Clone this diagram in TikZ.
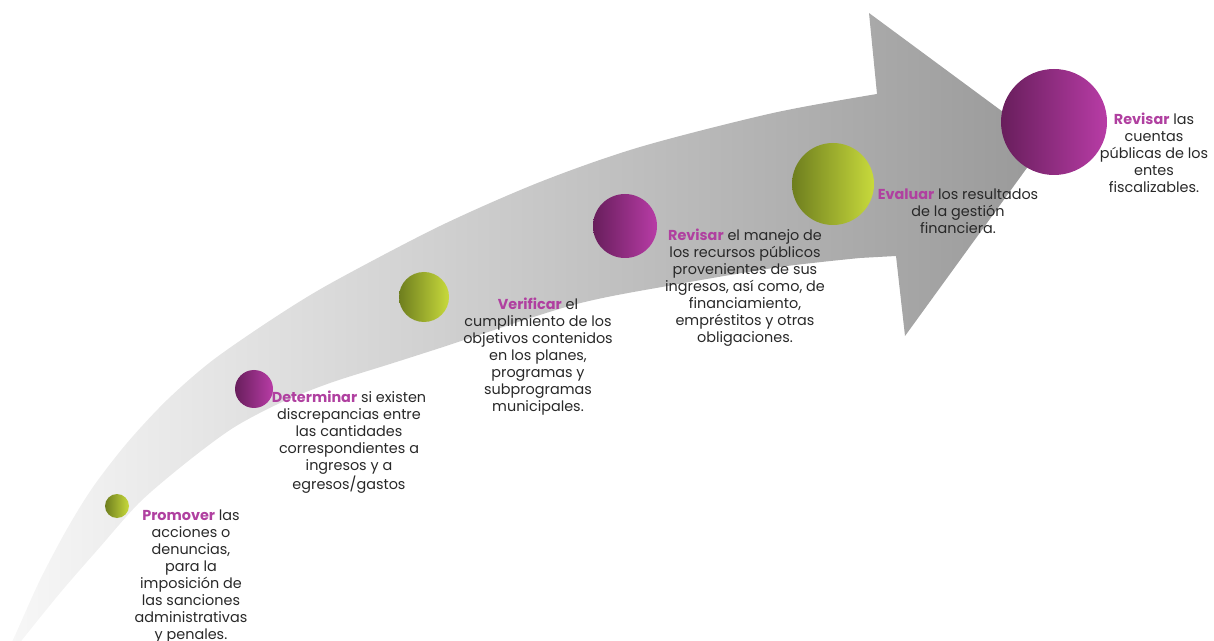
\documentclass[tikz,border=0pt]{standalone}
\usepackage{fontspec}
\setmainfont{Poppins}
\usetikzlibrary{positioning}

\definecolor{kwpurple}{RGB}{176,64,160}
\definecolor{bodygray}{RGB}{40,40,40}
\definecolor{olivedark}{RGB}{110,126,30}
\definecolor{limelight}{RGB}{200,218,60}
\definecolor{plumdark}{RGB}{104,30,92}
\definecolor{plumlight}{RGB}{184,60,166}
\newcommand{\kw}[1]{{\bfseries\color{kwpurple}#1}}

\tikzset{
  greendot/.style={circle, inner sep=0pt, left color=olivedark, right color=limelight},
  plumdot/.style={circle, inner sep=0pt, left color=plumdark, right color=plumlight},
  steptext/.style={align=center, inner sep=0pt, text=bodygray, font=\fontsize{10.8}{12.75}\selectfont}
}

\begin{document}
\begin{tikzpicture}[x=0.75pt, y=-0.75pt]
\useasboundingbox (0,0) rectangle (1214,641);
% the curved arrow
\shade[left color=white!97!black, right color=black!40]
  plot[smooth] coordinates {(6,655) (17,631) (40,580) (67,529) (93,487) (127,443) (167,400) (213,360) (277,316) (333,282) (440,226) (540,182) (640,147) (773,113) (877,94)}
  -- (869,13) -- (1045,143) -- (905,336) -- (896,256)
  -- plot[smooth] coordinates {(860,258) (780,267) (673,285) (573,305) (440,348) (390,364) (330,383) (280,403) (233,428) (187,462) (140,502) (100,547) (60,593) (18,645)}
  -- cycle;

% the dots
\node[greendot, minimum size=18pt] (promover) at (117,506) {};
\node[plumdot, minimum size=28.5pt] (determinar) at (254,389) {};
\node[greendot, minimum size=37.5pt] (verificar) at (424,297) {};
\node[plumdot, minimum size=48pt] (revisarrec) at (625,226) {};
\node[greendot, minimum size=61.5pt] (evaluar) at (833,184) {};
\node[plumdot, minimum size=79.5pt] (revisarcta) at (1054,122) {};

% the texts
\node[steptext] (promovertxt) at (191,577) {\kw{Promover} las\\acciones o\\denuncias,\\para la\\imposición de\\las sanciones\\administrativas\\y penales.};
\node[steptext] (determinartxt) at (349,442) {\kw{Determinar} si existen\\discrepancias entre\\las cantidades\\correspondientes a\\ingresos y a\\egresos/gastos};
\node[steptext] (verificartxt) at (538,357) {\kw{Verificar} el\\cumplimiento de los\\objetivos contenidos\\en los planes,\\programas y\\subprogramas\\municipales.};
\node[steptext] (revisarrectxt) at (745,288) {\kw{Revisar} el manejo de\\los recursos públicos\\provenientes de sus\\ingresos, así como, de\\financiamiento,\\empréstitos y otras\\obligaciones.};
\node[steptext] (evaluartxt) at (958,211) {\kw{Evaluar} los resultados\\de la gestión\\financiera.};
\node[steptext] (revisarctatxt) at (1154,153) {\kw{Revisar} las\\cuentas\\públicas de los\\entes\\fiscalizables.};
\end{tikzpicture}
\end{document}
